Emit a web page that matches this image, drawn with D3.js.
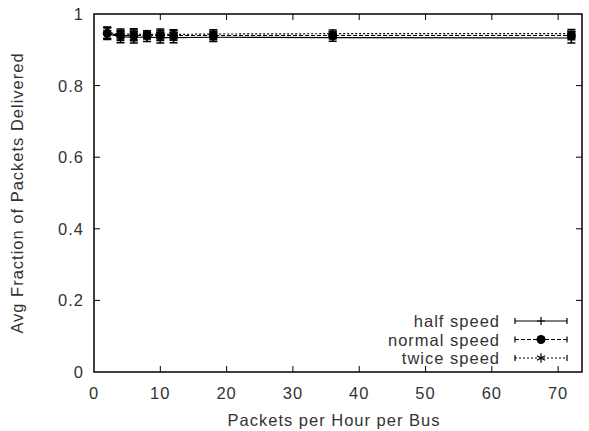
<!DOCTYPE html>
<html>
<head>
<meta charset="utf-8">
<script src="https://cdn.jsdelivr.net/npm/d3@7"></script>
<style>
  body { margin: 0; background: #fff; }
  text { font-family: "Liberation Sans", Arial, sans-serif; fill: #333; letter-spacing: 1px; }
</style>
</head>
<body>
<div id="chart"></div>
<script>
// packets per hour per bus
var packets = [2, 4, 6, 8, 10, 12, 18, 36, 72];

// avg fraction delivered, +/- error
var halfSpeed    = [0.945, 0.936, 0.935, 0.935, 0.934, 0.934, 0.935, 0.934, 0.933];
var halfErr      = [0.016, 0.016, 0.016, 0.012, 0.015, 0.014, 0.012, 0.010, 0.014];
var normalSpeed  = [0.946, 0.940, 0.940, 0.940, 0.940, 0.940, 0.940, 0.940, 0.940];
var normalErr    = [0.016, 0.014, 0.015, 0.010, 0.014, 0.013, 0.012, 0.010, 0.012];
var twiceSpeed   = [0.948, 0.944, 0.944, 0.943, 0.944, 0.943, 0.944, 0.945, 0.945];
var twiceErr     = [0.016, 0.014, 0.015, 0.010, 0.014, 0.013, 0.012, 0.010, 0.012];

var xTicks = [0, 10, 20, 30, 40, 50, 60, 70];
var yTicks = [0, 0.2, 0.4, 0.6, 0.8, 1];

var series = [
  { name: "half speed",   values: halfSpeed,   err: halfErr,   dash: null,  marker: "plus" },
  { name: "normal speed", values: normalSpeed, err: normalErr, dash: "4,2", marker: "circle" },
  { name: "twice speed",  values: twiceSpeed,  err: twiceErr,  dash: "2,2", marker: "star" }
];

var width = 589, height = 431;
var margin = { left: 94, right: 7, top: 14, bottom: 59 };
var fontSize = "16.5px";

var svg = d3.select("#chart").append("svg")
    .attr("width", width)
    .attr("height", height);

var x = d3.scaleLinear().domain([0, 73.6]).range([margin.left, width - margin.right]);
var y = d3.scaleLinear().domain([0, 1]).range([height - margin.bottom, margin.top]);

var x0 = x.range()[0], x1 = x.range()[1];
var y0 = y.range()[0], y1 = y.range()[1];

// ticks (inward, mirrored like gnuplot)
var tickLen = 6;
var axes = svg.append("g").attr("stroke", "#000").attr("stroke-width", 1);
xTicks.forEach(function(t) {
  if (t === 0) return;
  axes.append("line").attr("x1", x(t)).attr("x2", x(t)).attr("y1", y0).attr("y2", y0 - tickLen);
  axes.append("line").attr("x1", x(t)).attr("x2", x(t)).attr("y1", y1).attr("y2", y1 + tickLen);
});
yTicks.forEach(function(t) {
  if (t === 0 || t === 1) return;
  axes.append("line").attr("x1", x0).attr("x2", x0 + tickLen).attr("y1", y(t)).attr("y2", y(t));
  axes.append("line").attr("x1", x1).attr("x2", x1 - tickLen).attr("y1", y(t)).attr("y2", y(t));
});

svg.append("rect")
    .attr("x", x0).attr("y", y1)
    .attr("width", x1 - x0).attr("height", y0 - y1)
    .attr("fill", "none").attr("stroke", "#000").attr("stroke-width", 1.5);

// tick labels
svg.append("g").selectAll("text").data(xTicks).enter().append("text")
    .attr("x", function(d) { return x(d); })
    .attr("y", y0 + 27)
    .attr("text-anchor", "middle")
    .style("font-size", fontSize)
    .text(function(d) { return d; });

svg.append("g").selectAll("text").data(yTicks).enter().append("text")
    .attr("x", x0 - 10)
    .attr("y", function(d) { return y(d) + 6; })
    .attr("text-anchor", "end")
    .style("font-size", fontSize)
    .text(function(d) { return d; });

// axis titles
svg.append("text")
    .attr("x", (x0 + x1) / 2 - 4)
    .attr("y", 426)
    .attr("text-anchor", "middle")
    .style("font-size", fontSize)
    .text("Packets per Hour per Bus");

svg.append("text")
    .attr("transform", "translate(23," + ((y0 + y1) / 2) + ")rotate(-90)")
    .attr("text-anchor", "middle")
    .style("font-size", fontSize)
    .text("Avg Fraction of Packets Delivered");

function drawMarker(g, type, cx, cy) {
  if (type === "plus") {
    g.append("path").attr("d", "M" + (cx - 4) + "," + cy + "H" + (cx + 4) + "M" + cx + "," + (cy - 4) + "V" + (cy + 4))
      .attr("stroke", "#000").attr("stroke-width", 1.2);
  } else if (type === "circle") {
    g.append("circle").attr("cx", cx).attr("cy", cy).attr("r", 4.5).attr("fill", "#000");
  } else {
    g.append("path").attr("d", d3.symbol(d3.symbolAsterisk, 60)()).attr("transform", "translate(" + cx + "," + cy + ")")
      .attr("stroke", "#000").attr("stroke-width", 1.2).attr("fill", "none");
  }
}

var line = d3.line()
    .x(function(d) { return x(d[0]); })
    .y(function(d) { return y(d[1]); });

var plot = svg.append("g");
series.forEach(function(s) {
  var pts = packets.map(function(p, i) { return [p, s.values[i], s.err[i]]; });
  var g = plot.append("g");
  g.append("path")
      .datum(pts)
      .attr("d", line)
      .attr("fill", "none")
      .attr("stroke", "#000")
      .attr("stroke-width", 1.2)
      .attr("stroke-dasharray", s.dash);
  pts.forEach(function(d) {
    var cx = x(d[0]), ya = y(d[1] + d[2]), yb = y(d[1] - d[2]);
    g.append("path")
        .attr("d", "M" + cx + "," + ya + "V" + yb + "M" + (cx - 4) + "," + ya + "H" + (cx + 4) + "M" + (cx - 4) + "," + yb + "H" + (cx + 4))
        .attr("stroke", "#000").attr("stroke-width", 1.5).attr("fill", "none");
    drawMarker(g, s.marker, cx, y(d[1]));
  });
});

// legend
var legend = svg.append("g");
series.forEach(function(s, i) {
  var ly = 321 + i * 18.5;
  legend.append("text")
      .attr("x", 500).attr("y", ly + 6)
      .attr("text-anchor", "end")
      .style("font-size", fontSize)
      .text(s.name);
  legend.append("path")
      .attr("d", "M515," + ly + "H567")
      .attr("stroke", "#000").attr("stroke-width", 1.2).attr("stroke-dasharray", s.dash);
  legend.append("path")
      .attr("d", "M515," + (ly - 3) + "V" + (ly + 3) + "M567," + (ly - 3) + "V" + (ly + 3))
      .attr("stroke", "#000").attr("stroke-width", 1.2);
  drawMarker(legend, s.marker, 541, ly);
});
</script>
</body>
</html>
